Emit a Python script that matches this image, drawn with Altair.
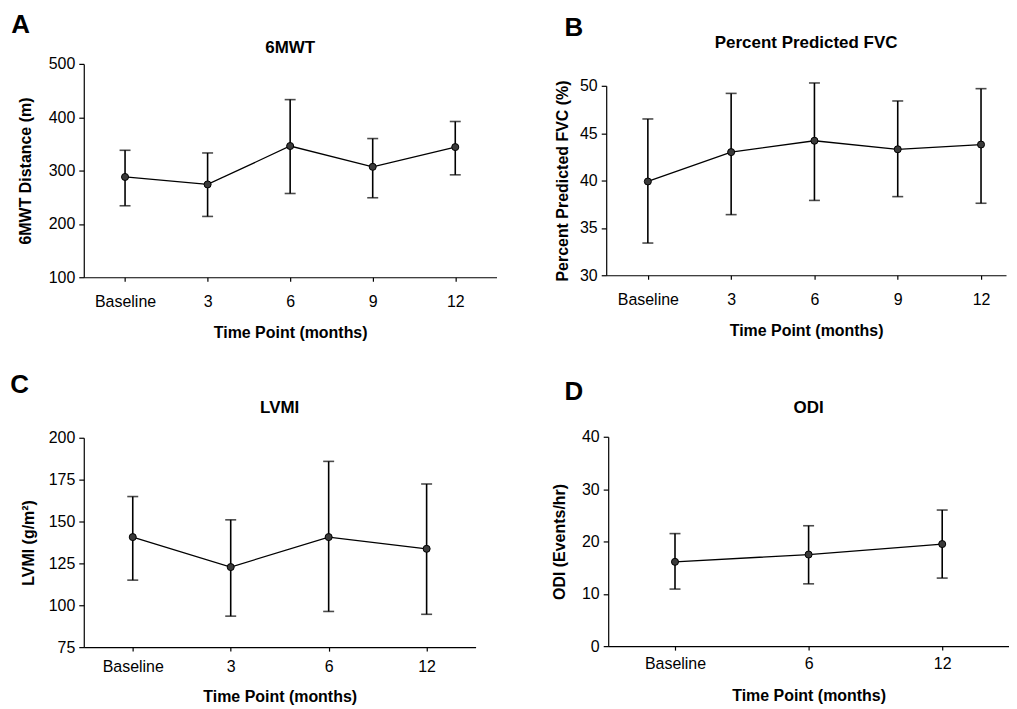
import altair as alt
import pandas as pd

FONT = "Liberation Sans"

# ---- data ----
a_labels = ["Baseline", "3", "6", "9", "12"]
a_mean = [288, 274, 346, 307, 344]
a_lo = [234, 214, 257, 249, 292]
a_hi = [338, 333, 433, 360, 392]

b_labels = ["Baseline", "3", "6", "9", "12"]
b_mean = [39.9, 43.0, 44.2, 43.3, 43.8]
b_lo = [33.4, 36.4, 37.9, 38.3, 37.6]
b_hi = [46.5, 49.2, 50.3, 48.4, 49.7]

c_labels = ["Baseline", "3", "6", "12"]
c_mean = [140.7, 122.8, 140.7, 133.7]
c_lo = [115.0, 93.5, 96.3, 94.6]
c_hi = [164.9, 151.0, 185.9, 172.4]

d_labels = ["Baseline", "6", "12"]
d_mean = [16.1, 17.5, 19.5]
d_lo = [10.9, 11.9, 13.0]
d_hi = [21.5, 23.0, 26.0]

a_ticks = [100, 200, 300, 400, 500]
b_ticks = [30, 35, 40, 45, 50]
c_ticks = [75, 100, 125, 150, 175, 200]
d_ticks = [0, 10, 20, 30, 40]


def panel(letter, name, labels, mean, lo, hi, ytitle, yticks, width, height,
          spacer_h, title_offset, letter_offset, letter_dx, ytitle_pad,
          xlabel_pad, xtitle_pad, pad=0.5, align=0.5):
    df = pd.DataFrame({"t": labels, "m": mean, "lo": lo, "hi": hi})
    xenc = alt.X(
        "t:O", sort=labels,
        scale=alt.Scale(type="point", padding=pad, align=align),
        axis=alt.Axis(title="Time Point (months)", labelAngle=0, tickSize=4,
                      labelPadding=xlabel_pad, titlePadding=xtitle_pad, grid=False),
    )
    yscale = alt.Scale(domain=[yticks[0], yticks[-1]], nice=False, zero=False)
    yaxis = alt.Axis(title=ytitle, values=yticks, tickSize=5, labelPadding=4,
                     titlePadding=ytitle_pad, grid=False)
    base = alt.Chart(df)
    bars = base.mark_rule(color="black", strokeWidth=1.6).encode(
        x=xenc, y=alt.Y("lo:Q", scale=yscale, axis=yaxis), y2="hi:Q")
    cap_lo = base.mark_tick(color="black", thickness=1.6, size=11).encode(
        x=xenc, y=alt.Y("lo:Q", scale=yscale, axis=yaxis))
    cap_hi = base.mark_tick(color="black", thickness=1.6, size=11).encode(
        x=xenc, y=alt.Y("hi:Q", scale=yscale, axis=yaxis))
    line = base.mark_line(color="black", strokeWidth=1.3).encode(
        x=xenc, y=alt.Y("m:Q", scale=yscale, axis=yaxis))
    pts = base.mark_circle(size=50, color="#3a3a3a", stroke="black",
                           strokeWidth=1, opacity=1).encode(
        x=xenc, y=alt.Y("m:Q", scale=yscale, axis=yaxis))
    chart = alt.layer(bars, cap_lo, cap_hi, line, pts).properties(
        width=width, height=height,
        title=alt.Title(name, offset=title_offset, anchor="middle", frame="group"),
    )
    # invisible spacer that sets where the panel's title block starts
    spacer = alt.Chart(pd.DataFrame({"s": [0]})).mark_point(
        size=1, opacity=0).encode(x=alt.value(1), y=alt.value(0.5)).properties(
        width=width, height=spacer_h)
    return alt.vconcat(spacer, chart, spacing=0).properties(
        title=alt.Title(letter, anchor="start", frame="bounds", fontSize=26,
                        offset=letter_offset, dx=letter_dx)
    )


pA = panel("A", "6MWT", a_labels, a_mean, a_lo, a_hi, "6MWT Distance (m)", a_ticks,
           414, 214, spacer_h=6, title_offset=-1, letter_offset=-5, letter_dx=-6,
           ytitle_pad=15, xlabel_pad=12, xtitle_pad=15)
pB = panel("B", "Percent Predicted FVC", b_labels, b_mean, b_lo, b_hi,
           "Percent Predicted FVC (%)", b_ticks, 401, 190,
           spacer_h=1, title_offset=26, letter_offset=-8, letter_dx=10,
           ytitle_pad=9, xlabel_pad=12, xtitle_pad=15, pad=0.4, align=0.625)
pC = panel("C", "LVMI", c_labels, c_mean, c_lo, c_hi, "LVMI (g/m²)", c_ticks,
           393, 210, spacer_h=1, title_offset=13, letter_offset=0, letter_dx=-10,
           ytitle_pad=12, xlabel_pad=7, xtitle_pad=15)
pD = panel("D", "ODI", d_labels, d_mean, d_lo, d_hi, "ODI (Events/hr)", d_ticks,
           402, 210, spacer_h=1, title_offset=12, letter_offset=-7, letter_dx=13,
           ytitle_pad=14, xlabel_pad=5, xtitle_pad=17)

chart = alt.vconcat(
    alt.hconcat(pA, pB, spacing=58),
    alt.hconcat(pC, pD, spacing=76),
    spacing=32,
).properties(
    padding={"left": 2, "top": 3, "right": 0, "bottom": 0},
    background="white",
).configure_axis(
    labelFont=FONT, labelFontSize=16, labelColor="black",
    titleFont=FONT, titleFontSize=16, titleFontWeight="bold", titleColor="black",
    domainColor="black", domainWidth=1.2, tickColor="black", tickWidth=1.2,
    grid=False,
).configure_title(
    font=FONT, fontSize=17, fontWeight="bold", color="black",
).configure_view(stroke=None)

chart.save("out.html", embed_options={"renderer": "svg", "actions": False})
